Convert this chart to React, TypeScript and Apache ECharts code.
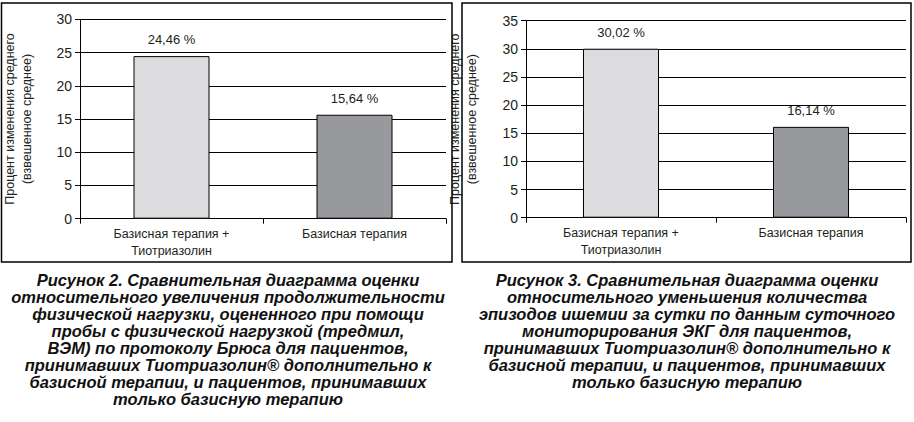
import React, { useEffect, useRef } from "react";
import * as echarts from "echarts";

const categories = ["Базисная терапия +\nТиотриазолин", "Базисная терапия"];
const valuesFig2 = [24.46, 15.64];
const valuesFig3 = [30.02, 16.14];
const yMaxFig2 = 30;
const yMaxFig3 = 35;
const yStep = 5;
const yAxisName = "Процент изменения среднего\n(взвешенное среднее)";
const caption2 = [
  "Рисунок 2. Сравнительная диаграмма оценки",
  "относительного увеличения продолжительности",
  "физической нагрузки, оцененного при помощи",
  "пробы с физической нагрузкой (тредмил,",
  "ВЭМ) по протоколу Брюса для пациентов,",
  "принимавших Тиотриазолин® дополнительно к",
  "базисной терапии, и пациентов, принимавших",
  "только базисную терапию",
];
const caption3 = [
  "Рисунок 3. Сравнительная диаграмма оценки",
  "относительного уменьшения количества",
  "эпизодов ишемии за сутки по данным суточного",
  "мониторирования ЭКГ для пациентов,",
  "принимавших Тиотриазолин® дополнительно к",
  "базисной терапии, и пациентов, принимавших",
  "только базисную терапию",
];
const barColors = ["#dcdcde", "#98999c"];

const TXT = "#231f20";
const FONT = "'Liberation Sans', Arial, sans-serif";

function fmt(v: number) {
  return v.toFixed(2).replace(".", ",") + " %";
}

function xAxisCfg(gridIndex: number) {
  return {
    type: "category",
    gridIndex,
    data: categories,
    axisLine: { show: true, lineStyle: { color: "#000", width: 1 } },
    axisTick: { show: true, length: 5, lineStyle: { color: "#000" } },
    axisLabel: {
      color: TXT,
      fontFamily: FONT,
      fontSize: 12.5,
      lineHeight: 17,
      margin: 7,
      interval: 0,
    },
  };
}

function yAxisCfg(gridIndex: number, max: number, nameGap: number) {
  return {
    type: "value",
    gridIndex,
    min: 0,
    max,
    interval: yStep,
    name: yAxisName,
    nameLocation: "middle",
    nameRotate: 90,
    nameGap,
    nameTextStyle: { color: TXT, fontFamily: FONT, fontSize: 12.5, lineHeight: 17 },
    axisLine: { show: true, lineStyle: { color: "#000", width: 1 } },
    axisTick: { show: true, length: 5, lineStyle: { color: "#000" } },
    axisLabel: { color: TXT, fontFamily: FONT, fontSize: 14, margin: 8 },
    splitLine: { show: true, lineStyle: { color: "#000", width: 1 } },
  };
}

function barSeries(idx: number, values: number[]) {
  return {
    type: "bar",
    xAxisIndex: idx,
    yAxisIndex: idx,
    barWidth: 76,
    data: values.map((v, i) => ({
      value: v,
      itemStyle: { color: barColors[i], borderColor: "#000", borderWidth: 1 },
    })),
    label: {
      show: true,
      position: "top",
      distance: 10,
      color: TXT,
      fontFamily: FONT,
      fontSize: 13,
      formatter: (p: any) => fmt(p.value),
    },
  };
}

function captionGraphic(lines: string[], cx: number, y0: number) {
  return {
    type: "text",
    x: cx,
    y: y0 - 8.5,
    style: {
      text: lines.join("\n"),
      fill: "#111",
      font: `italic bold 16.5px ${FONT}`,
      lineHeight: 17,
      textAlign: "center",
      textVerticalAlign: "top",
    },
  };
}

export default function App() {
  const ref = useRef<HTMLDivElement>(null);
  useEffect(() => {
    if (!ref.current) return;
    const chart = echarts.init(ref.current, null, { renderer: "svg" });
    chart.setOption({
      animation: false,
      backgroundColor: "#fff",
      grid: [
        { left: 63, top: 19.3, width: 383, height: 199.4 },
        { left: 526, top: 20.7, width: 380, height: 197 },
      ],
      xAxis: [xAxisCfg(0), xAxisCfg(1)],
      yAxis: [yAxisCfg(0, yMaxFig2, 45), yAxisCfg(1, yMaxFig3, 46)],
      series: [barSeries(0, valuesFig2), barSeries(1, valuesFig3)],
      graphic: [
        {
          type: "rect",
          shape: { x: 1.5, y: 3, width: 450.5, height: 259 },
          style: { fill: "none", stroke: "#000", lineWidth: 1.5 },
          z: 10,
        },
        {
          type: "rect",
          shape: { x: 462, y: 3, width: 449, height: 259 },
          style: { fill: "none", stroke: "#000", lineWidth: 1.5 },
          z: 10,
        },
        captionGraphic(caption2, 228, 280),
        captionGraphic(caption3, 687, 280),
      ],
    });
    return () => chart.dispose();
  }, []);
  return (
    <div
      ref={ref}
      style={{ position: "fixed", left: 0, top: 0, width: 914, height: 422 }}
    />
  );
}
